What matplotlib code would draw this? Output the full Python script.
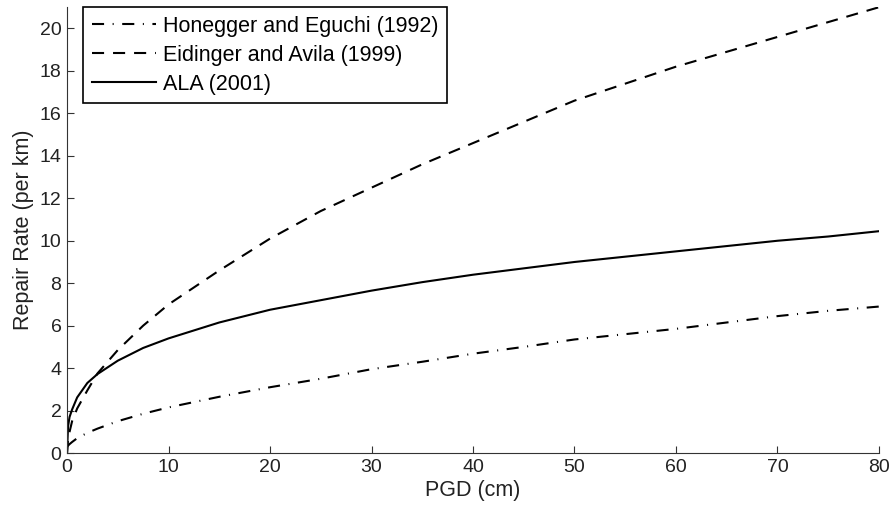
import matplotlib
matplotlib.use("Agg")
import matplotlib.pyplot as plt

pgd = [0, 0.1, 0.25, 0.5, 1, 2, 3, 5, 7.5, 10, 15, 20, 25, 30, 35, 40,
       45, 50, 55, 60, 65, 70, 75, 80]

# repair rate (per km) for each relation
honegger = [0.3, 0.35, 0.42, 0.52, 0.7, 0.95, 1.15, 1.5, 1.85, 2.15, 2.65, 3.1,
            3.5, 3.95, 4.3, 4.68, 5.0, 5.35, 5.6, 5.85, 6.15, 6.45, 6.7, 6.9]
eidinger = [0.0, 0.65, 1.0, 1.5, 2.1, 2.95, 3.75, 4.85, 6.0, 7.0, 8.6, 10.1,
            11.4, 12.5, 13.6, 14.6, 15.6, 16.6, 17.4, 18.2, 18.9, 19.6, 20.3, 21.0]
ala = [0.0, 1.25, 1.7, 2.05, 2.62, 3.3, 3.72, 4.35, 4.95, 5.4, 6.15, 6.75,
       7.2, 7.65, 8.05, 8.4, 8.7, 9.0, 9.25, 9.5, 9.75, 10.0, 10.2, 10.45]

labels = ["Honegger and Eguchi (1992)", "Eidinger and Avila (1999)", "ALA (2001)"]

plt.rcParams['font.family'] = ['Liberation Sans', 'DejaVu Sans']
plt.rcParams['font.size'] = 14

fig = plt.figure(figsize=(8.96, 5.16), dpi=100)
ax = fig.add_axes([0.0748, 0.122, 0.9062, 0.864])

lw = 1.5
ax.plot(pgd, honegger, color='black', lw=lw, dashes=(5.8, 4.1, 0.5, 4.1), label=labels[0])
ax.plot(pgd, eidinger, color='black', lw=lw, dashes=(5.8, 4.3), label=labels[1])
ax.plot(pgd, ala, color='black', lw=lw, label=labels[2])

ax.set_xlim(0, 80)
ax.set_ylim(0, 21)
ax.set_xticks(range(0, 81, 10))
ax.set_yticks(range(0, 21, 2))
ax.spines['top'].set_visible(False)
ax.spines['right'].set_visible(False)
for s in ('left', 'bottom'):
    ax.spines[s].set_color('#333333')
ax.tick_params(direction='in', length=5, colors='#333333', labelcolor='#222222',
               labelsize=14, pad=4)
ax.set_xlabel('PGD (cm)', color='#222222', fontsize=15.5, labelpad=3)
ax.set_ylabel('Repair Rate (per km)', color='#222222', fontsize=15.5, labelpad=4)

leg = ax.legend(loc='upper left', bbox_to_anchor=(0.0197, 1.0), fancybox=False,
                framealpha=1, edgecolor='black', fontsize=15.5, handlelength=3.0,
                borderpad=0.4, labelspacing=0.37, handletextpad=0.3,
                borderaxespad=0.0)
leg.get_frame().set_linewidth(1.2)

fig.savefig('out.png', dpi=100)
